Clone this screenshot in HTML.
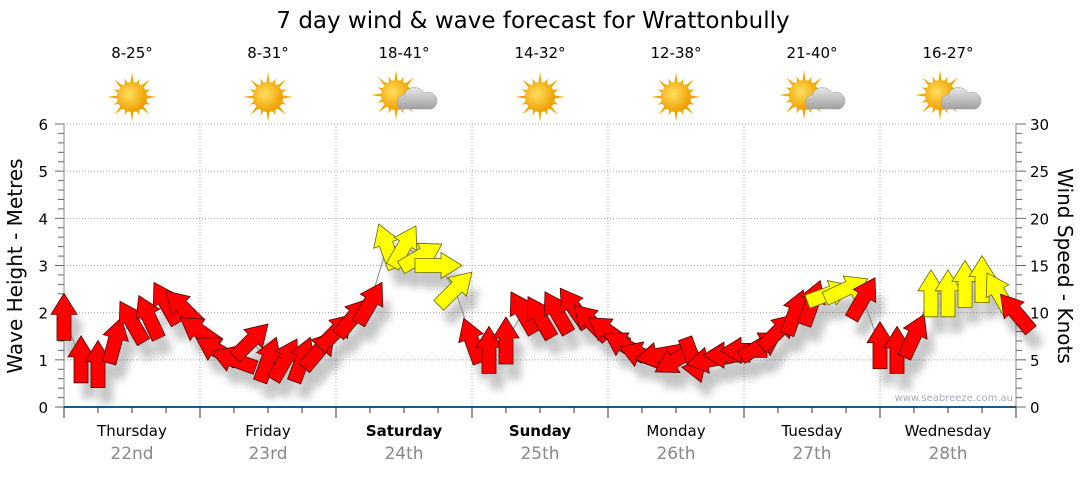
<!DOCTYPE html>
<html><head><meta charset="utf-8"><style>
body{margin:0;background:#fff;font-family:"Liberation Sans","DejaVu Sans",sans-serif}
svg text{font-family:"DejaVu Sans","Liberation Sans",sans-serif}
</style></head><body>
<svg id="c" width="1080" height="475" viewBox="0 0 1080 475" xmlns="http://www.w3.org/2000/svg">
<defs>
<filter id="sh" x="-50%" y="-50%" width="200%" height="200%"><feGaussianBlur stdDeviation="4"/></filter>
<radialGradient id="sun" cx="0.4" cy="0.4" r="0.6"><stop offset="0" stop-color="#ffe060"/><stop offset="1" stop-color="#f0a000"/></radialGradient>
<linearGradient id="cl" x1="0" y1="0" x2="0" y2="1"><stop offset="0" stop-color="#e8e8e8"/><stop offset="1" stop-color="#a0a0a0"/></linearGradient>
</defs>
<text x="533" y="28" font-size="23" text-anchor="middle" fill="#000">7 day wind &amp; wave forecast for Wrattonbully</text>
<g id="grid"></g><g id="axes"></g><g id="top"></g>
<g id="shadows" filter="url(#sh)" opacity="0.22"></g>
<path id="wline" fill="none" stroke="#888" stroke-width="1"/>
<g id="arrows"></g>
<text x="1013" y="401" font-size="10" text-anchor="end" fill="#aab">www.seabreeze.com.au</text>
<text transform="translate(22,266) rotate(-90)" font-size="20" text-anchor="middle">Wave Height - Metres</text>
<text transform="translate(1058,266) rotate(90)" font-size="20" text-anchor="middle">Wind Speed - Knots</text>
</svg>
<script>
const days=["Thursday","Friday","Saturday","Sunday","Monday","Tuesday","Wednesday"];
const dates=["22nd","23rd","24th","25th","26th","27th","28th"];
const temps=["8-25°","8-31°","18-41°","14-32°","12-38°","21-40°","16-27°"];
const cloudy=[0,0,1,0,0,1,1];
const bold=[0,0,1,1,0,0,0];
const waveTicks=[0,1,2,3,4,5,6];
const windTicks=[0,5,10,15,20,25,30];
const windSpeed=[9.5,5,4.5,7,9,9.5,11,10.5,8,6,5,7,5,5,5,6,8,9.5,11,17,17,16,15,12.5,7,6,7,10,9.5,10,10.5,9,8,6.5,5.5,5.5,5,5,5,5.5,6,6.5,8,10,11,12,12.5,11.5,6.5,6,7.5,12,12,13,13.5,12,10];
const windDir=[0,0,0,15,-30,-25,-30,-45,-55,-60,-70,45,20,30,20,40,45,40,30,-20,30,60,90,45,-20,0,0,-30,-30,-30,-35,-45,-55,-60,-70,-100,-120,160,-100,-90,-90,60,45,20,20,70,65,30,0,0,25,0,0,0,0,-30,-40];
const X0=64,X1=1016,Y0=407,Y1=124;
const xT=i=>X0+(X1-X0)*i/(windSpeed.length-1);
const xD=d=>X0+(X1-X0)*d/7;
const yW=v=>Y0-(Y0-Y1)*v/6;
const yK=v=>Y0-(Y0-Y1)*v/30;
const NS="http://www.w3.org/2000/svg";
function mk(p,t,a){const e=document.createElementNS(NS,t);for(const k in a)e.setAttribute(k,a[k]);document.getElementById(p).appendChild(e);return e;}
waveTicks.forEach(v=>{if(v>0){const l=mk('grid','line',{x1:X0,x2:X1,y1:yW(v),y2:yW(v),stroke:'#aaa','stroke-dasharray':'1,2'});

}
const t=mk('axes','text',{x:48,y:yW(v)+6,'font-size':15,'text-anchor':'end',fill:'#000'});t.textContent=v;


for(let m=1;m<5&&v<6;m++)mk('axes','line',{x1:58,x2:64,y1:yW(v+m*0.2),y2:yW(v+m*0.2),stroke:'#666'});
mk('axes','line',{x1:55,x2:64,y1:yW(v),y2:yW(v),stroke:'#666'});});
windTicks.forEach(v=>{const t=mk('axes','text',{x:1030,y:yK(v)+6,'font-size':15,fill:'#000'});t.textContent=v;


mk('axes','line',{x1:1016,x2:1026,y1:yK(v),y2:yK(v),stroke:'#666'});
for(let m=1;m<5&&v<30;m++)mk('axes','line',{x1:1016,x2:1022,y1:yK(v+m),y2:yK(v+m),stroke:'#666'});});
mk('axes','line',{x1:X0,x2:X0,y1:Y1,y2:Y0,stroke:'#888'});
mk('axes','line',{x1:X1,x2:X1,y1:Y1,y2:Y0,stroke:'#888'});
mk('axes','line',{x1:X0,x2:X1,y1:Y0,y2:Y0,stroke:'#1a5a8a','stroke-width':2});
for(let d=0;d<=7;d++){if(d>0&&d<7){const g=mk('grid','line',{x1:xD(d),x2:xD(d),y1:Y1,y2:Y0,stroke:'#aaa','stroke-dasharray':'1,2'});

}
mk('axes','line',{x1:xD(d),x2:xD(d),y1:Y0,y2:Y0+11,stroke:'#333'});
if(d<7)for(let q=1;q<4;q++)mk('axes','line',{x1:xD(d+q/4),x2:xD(d+q/4),y1:Y0,y2:Y0+6,stroke:'#333'});}
days.forEach((n,d)=>{const cx=xD(d+0.5);
const a=mk('axes','text',{x:cx,y:436,'font-size':15,'text-anchor':'middle','font-weight':bold[d]?'bold':'normal'});a.textContent=n;


const b=mk('axes','text',{x:cx,y:459,'font-size':17,'text-anchor':'middle',fill:'#888'});b.textContent=dates[d];


const t=mk('top','text',{x:cx,y:58,'font-size':15,'text-anchor':'middle'});t.textContent=temps[d];


const g=mk('top','g',{transform:`translate(${cx},${cloudy[d]?95:97})`});


const sx=cloudy[d]?-8:0;
for(let k=0;k<16;k++){const an=k*Math.PI/8;const r=k%2?20:25;
const e=document.createElementNS(NS,'polygon');
const p=[[Math.cos(an-0.12)*14,Math.sin(an-0.12)*14],[Math.cos(an)*r,Math.sin(an)*r],[Math.cos(an+0.12)*14,Math.sin(an+0.12)*14]].map(q=>(q[0]+sx)+','+q[1]).join(' ');
e.setAttribute('points',p);e.setAttribute('fill','#f0a800');g.appendChild(e);}
const c=document.createElementNS(NS,'circle');c.setAttribute('cx',sx);c.setAttribute('cy',0);c.setAttribute('r',15);c.setAttribute('fill','url(#sun)');g.appendChild(c);
if(cloudy[d]){const cl=document.createElementNS(NS,'path');cl.setAttribute('d','M-4,14 a8,8 0 0 1 4,-14 a11,11 0 0 1 20,-2 a8,8 0 0 1 8,16 z');cl.setAttribute('fill','url(#cl)');cl.setAttribute('stroke','#999');cl.setAttribute('stroke-width','0.5');g.appendChild(cl);}
});
let dstr='';windSpeed.forEach((v,i)=>{dstr+=(i?'L':'M')+xT(i)+','+yK(v);});
document.getElementById('wline').setAttribute('d',dstr);
const AP='M0,-24 L13,-3 L7,-3 L7,23 L-7,23 L-7,-3 L-13,-3 Z';
windSpeed.forEach((v,i)=>{const x=xT(i),y=yK(v);
mk('shadows','path',{d:AP,transform:`translate(${x+8},${y+16}) rotate(${windDir[i]})`,fill:'#000'});
const a=mk('arrows','path',{d:AP,transform:`translate(${x},${y}) rotate(${windDir[i]})`,fill:v>=12?'#ffff00':'#ff0000',stroke:v>=12?'#666600':'#550000','stroke-width':0.8});

});
</script>
</body></html>
